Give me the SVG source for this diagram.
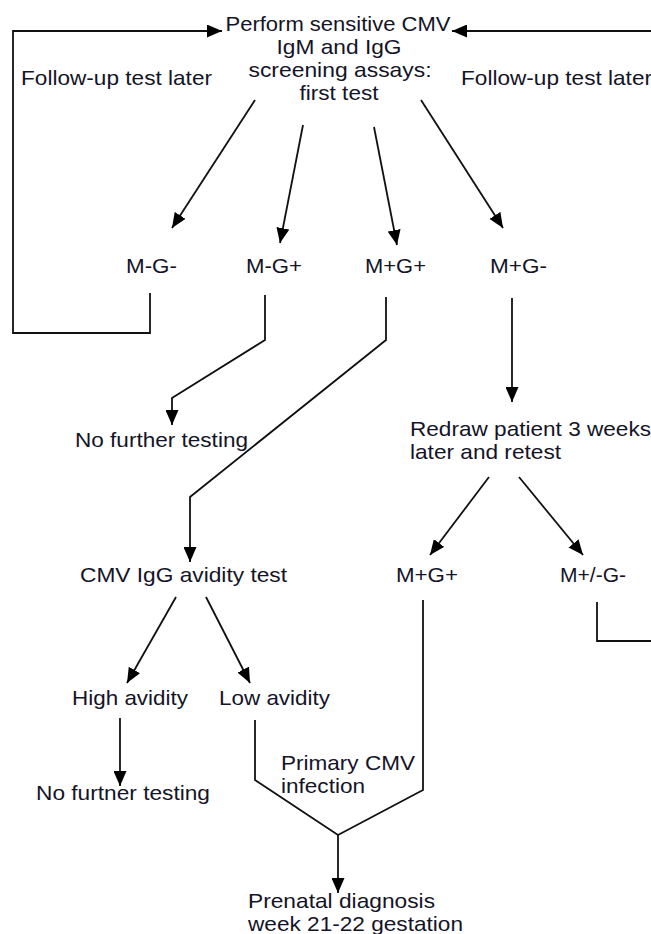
<svg xmlns="http://www.w3.org/2000/svg" width="651" height="934" viewBox="0 0 651 934">
<style>
text{font-family:"Liberation Sans",Arial,sans-serif;font-size:21px;fill:#141428}
.c{text-anchor:middle}
.ln{fill:none;stroke:#111;stroke-width:1.8}
.ar{marker-end:url(#ah)}
</style>
<defs>
<marker id="ah" markerUnits="userSpaceOnUse" markerWidth="15" markerHeight="13" refX="15" refY="6.5" orient="auto">
<path d="M0,0 L15,6.5 L0,13 z" fill="#000"/>
</marker>
</defs>
<rect width="651" height="934" fill="#fff"/>
<g id="connectors">
<polyline class="ln ar" points="150,293 150,333 13,333 13,31 222,31"/>
<line class="ln ar" x1="651" y1="31" x2="452" y2="31"/>
<line class="ln ar" x1="255" y1="100" x2="172" y2="228"/>
<line class="ln ar" x1="303" y1="125" x2="280" y2="243"/>
<line class="ln ar" x1="374" y1="127" x2="397" y2="245"/>
<line class="ln ar" x1="421" y1="100" x2="503" y2="228"/>
<polyline class="ln ar" points="265,295 265,340 172,398 172,425"/>
<polyline class="ln ar" points="386,297 386,340 190,497 190,562"/>
<line class="ln ar" x1="512" y1="298" x2="512" y2="402"/>
<line class="ln ar" x1="489" y1="477" x2="430" y2="555"/>
<line class="ln ar" x1="519" y1="477" x2="583" y2="555"/>
<polyline class="ln" points="597,602 597,641 651,641"/>
<polyline class="ln" points="423,600 423,790 338,835 255,780 255,720"/>
<line class="ln ar" x1="338" y1="835" x2="338" y2="893"/>
<line class="ln ar" x1="176" y1="597" x2="127" y2="683"/>
<line class="ln ar" x1="206" y1="597" x2="250" y2="683"/>
<line class="ln ar" x1="120" y1="718" x2="120" y2="786"/>
</g>
<g id="n-first-test">
<text class="c" x="338" y="31" textLength="225" lengthAdjust="spacingAndGlyphs">Perform sensitive CMV</text>
<text class="c" x="339" y="54" textLength="125" lengthAdjust="spacingAndGlyphs">IgM and IgG</text>
<text class="c" x="340" y="77" textLength="183" lengthAdjust="spacingAndGlyphs">screening assays:</text>
<text class="c" x="339" y="100" textLength="79" lengthAdjust="spacingAndGlyphs">first test</text>
</g>
<g id="l-followup-left"><text x="21" y="85" textLength="191" lengthAdjust="spacingAndGlyphs">Follow-up test later</text></g>
<g id="l-followup-right"><text x="461" y="85" textLength="191" lengthAdjust="spacingAndGlyphs">Follow-up test later</text></g>
<g id="n-mg-neg"><text x="126" y="273" textLength="51" lengthAdjust="spacingAndGlyphs">M-G-</text></g>
<g id="n-m-neg-g-pos"><text x="246" y="273" textLength="56" lengthAdjust="spacingAndGlyphs">M-G+</text></g>
<g id="n-mg-pos"><text x="365" y="273" textLength="61" lengthAdjust="spacingAndGlyphs">M+G+</text></g>
<g id="n-m-pos-g-neg"><text x="490" y="273" textLength="57" lengthAdjust="spacingAndGlyphs">M+G-</text></g>
<g id="n-no-further"><text x="75" y="447" textLength="173" lengthAdjust="spacingAndGlyphs">No further testing</text></g>
<g id="n-redraw">
<text x="410" y="436" textLength="241" lengthAdjust="spacingAndGlyphs">Redraw patient 3 weeks</text>
<text x="410" y="459" textLength="151" lengthAdjust="spacingAndGlyphs">later and retest</text>
</g>
<g id="n-avidity"><text x="80" y="582" textLength="207" lengthAdjust="spacingAndGlyphs">CMV IgG avidity test</text></g>
<g id="n-retest-mg-pos"><text x="396" y="582" textLength="62" lengthAdjust="spacingAndGlyphs">M+G+</text></g>
<g id="n-retest-mpm-g-neg"><text x="560" y="582" textLength="66" lengthAdjust="spacingAndGlyphs">M+/-G-</text></g>
<g id="n-high"><text x="72" y="705" textLength="116" lengthAdjust="spacingAndGlyphs">High avidity</text></g>
<g id="n-low"><text x="219" y="705" textLength="111" lengthAdjust="spacingAndGlyphs">Low avidity</text></g>
<g id="n-no-furtner"><text x="36" y="800" textLength="174" lengthAdjust="spacingAndGlyphs">No furtner testing</text></g>
<g id="l-primary">
<text x="281" y="770" textLength="134" lengthAdjust="spacingAndGlyphs">Primary CMV</text>
<text x="281" y="793" textLength="84" lengthAdjust="spacingAndGlyphs">infection</text>
</g>
<g id="n-prenatal">
<text x="248" y="908" textLength="187" lengthAdjust="spacingAndGlyphs">Prenatal diagnosis</text>
<text x="248" y="931" textLength="215" lengthAdjust="spacingAndGlyphs">week 21-22 gestation</text>
</g>
</svg>
